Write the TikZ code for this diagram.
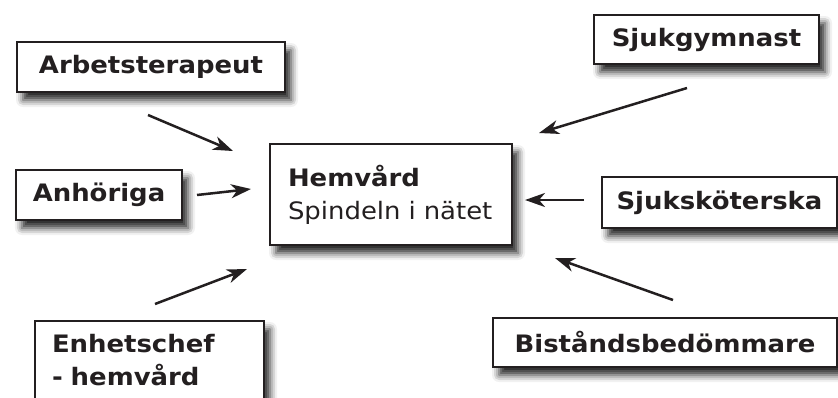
\documentclass[tikz,border=0pt]{standalone}
\usepackage{fontspec}
\setmainfont[FakeStretch=1.08]{DejaVu Sans}
\usetikzlibrary{arrows.meta,shadows.blur}
\definecolor{ink}{HTML}{231F20}
\tikzset{
  box/.style={draw=ink, line width=2.5pt, fill=white, text=ink, inner xsep=0pt, inner ysep=0pt,
    font=\fontsize{24}{33}\selectfont\bfseries,
    blur shadow={shadow xshift=6pt, shadow yshift=-8pt, shadow blur radius=7pt, shadow opacity=85}},
  conn/.style={draw=ink, line width=2.5pt, -{Stealth[length=20pt,width=14pt,inset=6pt]}}
}
\begin{document}
\begin{tikzpicture}[x=1pt,y=-1pt]
\useasboundingbox (0,0) rectangle (838,397);
\clip (0,0) rectangle (838,397);
\node[box, minimum width=268pt, minimum height=50pt, text width=268pt, align=center] (arb) at (151,67) {Arbetsterapeut};
\node[box, minimum width=166pt, minimum height=50pt, text width=166pt, align=center] (anh) at (99,195) {Anhöriga};
\node[box, minimum width=242pt, minimum height=101pt, text width=206pt, align=left] (hem) at (391,194.5) {Hemvård\\\mdseries Spindeln i nätet};
\node[box, minimum width=225pt, minimum height=49pt, text width=225pt, align=center] (sjg) at (706.5,39.5) {Sjukgymnast};
\node[box, minimum width=235pt, minimum height=51pt, text width=235pt, align=center] (sjk) at (719.5,202.5) {Sjuksköterska};
\node[box, minimum width=229pt, minimum height=78pt, text width=195pt, align=left] (enh) at (149.5,360) {Enhetschef\\- hemvård};
\node[box, minimum width=344pt, minimum height=49pt, text width=344pt, align=center] (bis) at (665,342.5) {Biståndsbedömmare};
\coordinate (a1s) at (148,115); \coordinate (a1e) at (233,151);
\coordinate (a2s) at (197,195); \coordinate (a2e) at (251,189);
\coordinate (a3s) at (155,304); \coordinate (a3e) at (247,269);
\coordinate (a4s) at (687,88);  \coordinate (a4e) at (539,133);
\coordinate (a5s) at (584,200); \coordinate (a5e) at (525,200);
\coordinate (a6s) at (673,300); \coordinate (a6e) at (555,258);
\draw[conn] (a1s) -- (a1e);
\draw[conn] (a2s) -- (a2e);
\draw[conn] (a3s) -- (a3e);
\draw[conn] (a4s) -- (a4e);
\draw[conn] (a5s) -- (a5e);
\draw[conn] (a6s) -- (a6e);
\end{tikzpicture}
\end{document}
